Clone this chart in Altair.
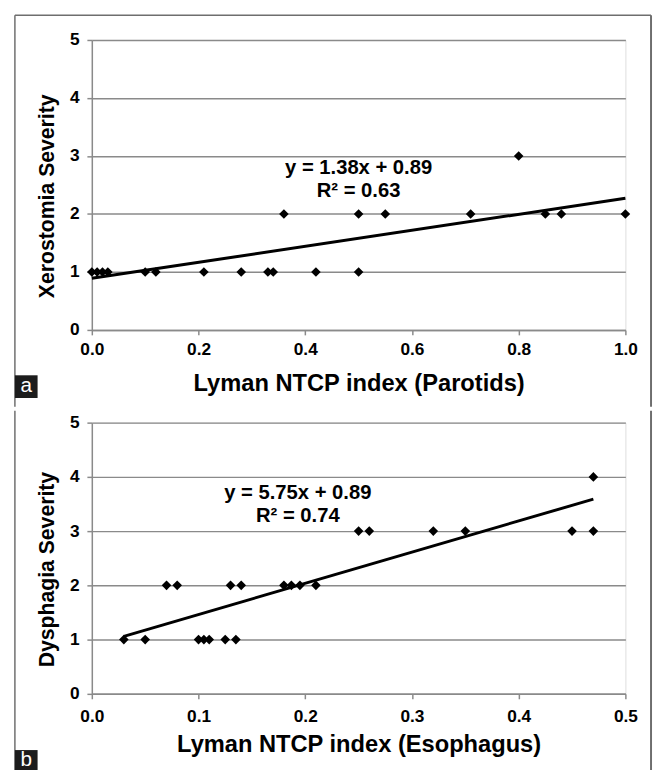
import altair as alt
import pandas as pd

# ---------- data ----------
# Panel a: Xerostomia vs Lyman NTCP (Parotids)
a_x = [0.00, 0.01, 0.02, 0.03, 0.10, 0.12, 0.21, 0.28, 0.33, 0.34, 0.42, 0.50,
       0.36, 0.50, 0.55, 0.71, 0.85, 0.88, 1.00,
       0.80]
a_y = [1, 1, 1, 1, 1, 1, 1, 1, 1, 1, 1, 1,
       2, 2, 2, 2, 2, 2, 2,
       3]
a_trend_x = [0.0, 1.0]
a_trend_y = [0.89, 2.27]
a_eq = ["y = 1.38x + 0.89", "R\u00b2 = 0.63"]
a_eq_x = [0.50, 0.50]
a_eq_y = [2.79, 2.39]

# Panel b: Dysphagia vs Lyman NTCP (Esophagus)
b_x = [0.03, 0.05, 0.10, 0.105, 0.11, 0.125, 0.135,
       0.07, 0.08, 0.13, 0.14, 0.18, 0.187, 0.195, 0.21,
       0.25, 0.26, 0.32, 0.35, 0.45, 0.47,
       0.47]
b_y = [1, 1, 1, 1, 1, 1, 1,
       2, 2, 2, 2, 2, 2, 2, 2,
       3, 3, 3, 3, 3, 3,
       4]
b_trend_x = [0.03, 0.47]
b_trend_y = [1.06, 3.59]
b_eq = ["y = 5.75x + 0.89", "R\u00b2 = 0.74"]
b_eq_x = [0.193, 0.193]
b_eq_y = [3.70, 3.28]

y_ticks = [0, 1, 2, 3, 4, 5]
a_xticks = [0.0, 0.2, 0.4, 0.6, 0.8, 1.0]
b_xticks = [0.0, 0.1, 0.2, 0.3, 0.4, 0.5]

FONT = "Liberation Sans"
GRAY = "#8a8a8a"
BORDER = "#6e6e6e"
W = 541


def panel(xs, ys, tx, ty, eq, ex, ey, xmax, xticks, xtitle, ytitle, height,
          letter, box_y, box_y2, letter_y, border_top, border_bottom, top_rule,
          lab_pad, title_pad):
    pts = pd.DataFrame({"x": xs, "y": ys})
    trend = pd.DataFrame({"x": tx, "y": ty})
    eqdf = pd.DataFrame({"x": ex, "y": ey, "t": eq})

    xscale = alt.Scale(domain=[0, xmax], nice=False)
    yscale = alt.Scale(domain=[0, 5], nice=False)
    xaxis = alt.Axis(values=xticks, format=".1f", grid=False, tickSize=5,
                     labelFlush=False, labelOverlap=False,
                     tickColor=GRAY, domainColor=GRAY, domainWidth=1.5, tickWidth=1.5,
                     labelFont=FONT, labelFontSize=17.5, labelFontWeight="bold",
                     labelColor="black", labelPadding=lab_pad, title=xtitle,
                     titleFont=FONT, titleFontSize=24, titleFontWeight="bold",
                     titleColor="black", titlePadding=title_pad)
    yaxis = alt.Axis(values=y_ticks, format="d", grid=True, gridColor=GRAY,
                     gridWidth=1.5, tickSize=5, tickColor=GRAY, tickWidth=1.5,
                     domainColor=GRAY, domainWidth=1.5, labelFlush=False,
                     labelFont=FONT, labelFontSize=17.5, labelFontWeight="bold",
                     labelColor="black", labelPadding=8, title=ytitle,
                     titleFont=FONT, titleFontSize=21.5, titleFontWeight="bold",
                     titleColor="black", titlePadding=11, titleY=height / 2 + 11)

    base = alt.Chart(pts).mark_point(shape="diamond", filled=True, color="black",
                                     size=95, opacity=1).encode(
        x=alt.X("x:Q", scale=xscale, axis=xaxis),
        y=alt.Y("y:Q", scale=yscale, axis=yaxis),
    )
    line = alt.Chart(trend).mark_line(color="black", strokeWidth=3).encode(
        x=alt.X("x:Q", scale=xscale), y=alt.Y("y:Q", scale=yscale))
    txt = alt.Chart(eqdf).mark_text(font=FONT, fontSize=20.5, fontWeight="bold",
                                    color="black", align="center",
                                    baseline="middle").encode(
        x=alt.X("x:Q", scale=xscale), y=alt.Y("y:Q", scale=yscale), text="t:N")

    one = alt.Data(values=[{"k": 1}])
    left_b = alt.Chart(one).mark_rule(color=BORDER, strokeWidth=1.5).encode(
        x=alt.value(-78), y=alt.value(border_top), y2=alt.value(border_bottom))
    right_b = alt.Chart(one).mark_rule(color=BORDER, strokeWidth=2).encode(
        x=alt.value(W + 26), y=alt.value(border_top), y2=alt.value(border_bottom))
    layers = [left_b, right_b]
    if top_rule:
        layers.append(alt.Chart(one).mark_rule(color=BORDER, strokeWidth=1.5).encode(
            x=alt.value(-78), x2=alt.value(W + 26), y=alt.value(border_top)))
    box = alt.Chart(one).mark_rect(color="#1c1c1c").encode(
        x=alt.value(-78), x2=alt.value(-55), y=alt.value(box_y), y2=alt.value(box_y2))
    lab = alt.Chart(alt.Data(values=[{"t": letter}])).mark_text(
        font=FONT, fontSize=21, color="white", align="center", baseline="middle").encode(
        x=alt.value(-66.5), y=alt.value(letter_y), text="t:N")
    layers += [box, lab, line, base, txt]
    return alt.layer(*layers).properties(width=W, height=height)


pa = panel(a_x, a_y, a_trend_x, a_trend_y, a_eq, a_eq_x, a_eq_y, 1.0, a_xticks,
           "Lyman NTCP index (Parotids)", "Xerostomia Severity", 294,
           "a", 340, 363, 350.5, -25, 372, True, 6, 14)
pb = panel(b_x, b_y, b_trend_x, b_trend_y, b_eq, b_eq_x, b_eq_y, 0.5, b_xticks,
           "Lyman NTCP index (Esophagus)", "Dysphagia Severity", 275,
           "b", 332, 360, 342.5, -12, 360, False, 9, 8)

chart = alt.vconcat(pa, pb, spacing=0).properties(
    padding={"left": 5, "top": 0, "right": 0, "bottom": 0}
).configure_view(stroke=None).configure(background="white")

chart.save("out.html", embed_options={"renderer": "svg", "actions": False})
